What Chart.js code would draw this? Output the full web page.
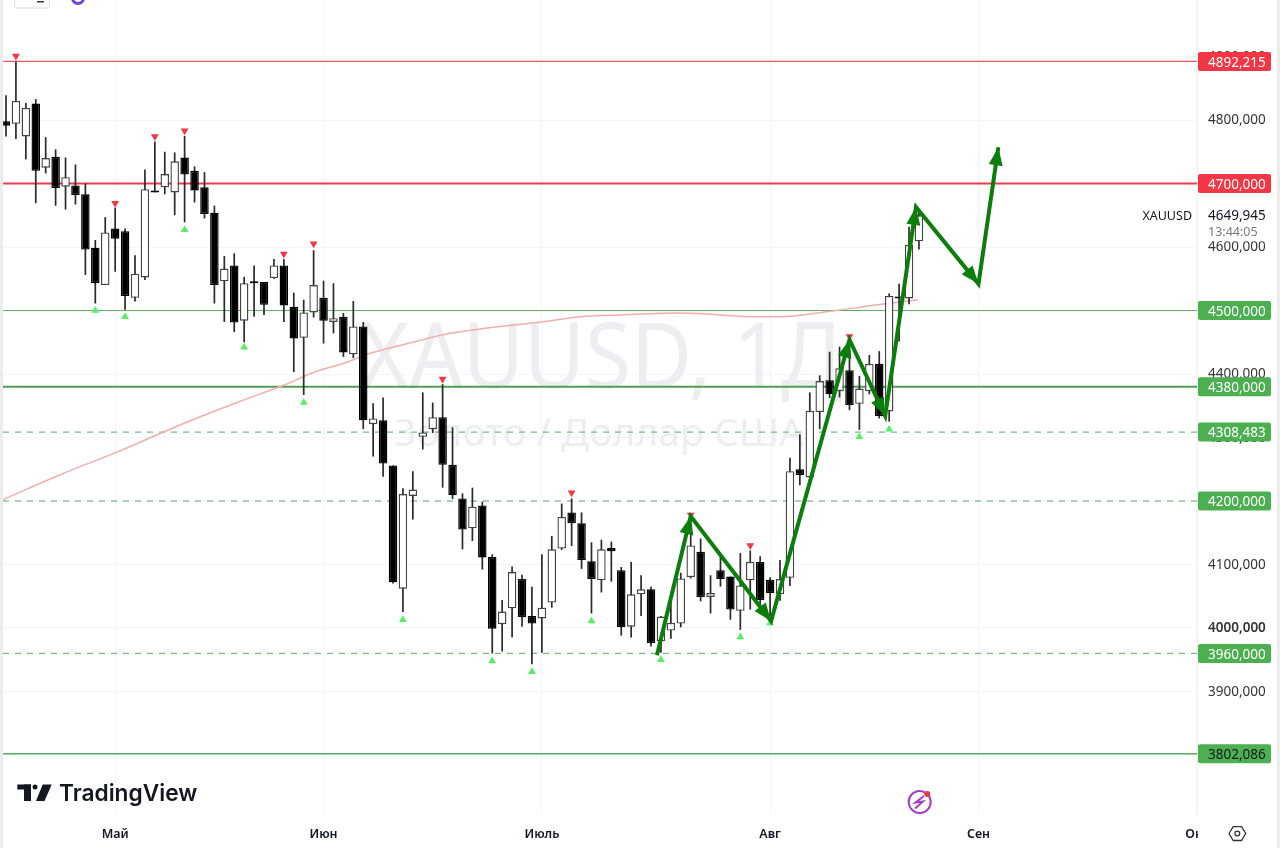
<!DOCTYPE html>
<html>
<head>
<meta charset="utf-8">
<title>XAUUSD</title>
<script src="https://cdn.jsdelivr.net/npm/chart.js@4"></script>
<style>
  html, body { margin: 0; padding: 0; background: #fff; overflow: hidden; }
  canvas { display: block; }
</style>
</head>
<body>
<canvas id="chart" width="1280" height="848"></canvas>
<script>
// daily candles, index = trading day
const candleOpen = [4798,4794,4774,4826,4725,4742,4695,4697,4683,4599,4540,4629,4625,4520,4552,4689,4694,4686,4741,4720,4694,4654,4546,4571,4484,4546,4545,4551,4571,4506,4457,4497,4520,4482,4490,4431,4475,4321,4327,4256,4062,4208,4301,4313,4332,4257,4204,4157,4193,4112,4006,4031,4077,4019,4015,4040,4125,4182,4165,4105,4075,4126,4091,4002,4053,4061,3979,3996,4007,4080,4120,4049,4091,4081,4027,4075,4104,4076,4053,4079,4250,4237,4340,4390,4373,4406,4353,4373,4416,4341,4522,4519,4609];
const candleHigh = [4839,4892,4827,4833,4773,4754,4741,4730,4700,4611,4647,4662,4629,4587,4722,4766,4750,4749,4775,4727,4718,4665,4586,4590,4553,4571,4545,4581,4581,4528,4517,4595,4547,4543,4496,4515,4482,4354,4363,4256,4220,4247,4371,4355,4384,4316,4212,4221,4199,4116,4044,4097,4084,4065,4116,4145,4196,4204,4182,4135,4139,4136,4096,4104,4083,4065,4019,4042,4087,4170,4141,4083,4112,4081,4118,4122,4113,4080,4107,4268,4305,4371,4398,4435,4443,4454,4397,4430,4436,4527,4542,4632,4658];
const candleLow = [4774,4770,4738,4669,4716,4665,4659,4667,4556,4511,4540,4561,4501,4514,4548,4686,4683,4650,4639,4670,4645,4511,4482,4466,4450,4490,4493,4550,4482,4403,4367,4489,4448,4464,4427,4425,4313,4270,4238,4070,4025,4171,4281,4307,4221,4203,4124,4137,4092,3960,3963,3985,4002,3943,3961,4032,4123,4129,4093,4023,4056,4073,3988,3985,4019,3971,3961,3983,4001,4078,4042,4023,4065,4013,3997,4029,4022,4018,4043,4066,4225,4225,4313,4362,4363,4343,4312,4368,4330,4325,4451,4510,4596];
const candleClose = [4791,4830,4819,4720,4740,4693,4710,4682,4596,4543,4623,4613,4523,4558,4691,4686,4715,4735,4714,4689,4652,4540,4566,4481,4543,4543,4509,4571,4508,4456,4497,4540,4484,4488,4434,4475,4327,4330,4259,4072,4211,4218,4308,4332,4257,4209,4155,4191,4111,3999,4026,4088,4017,4007,4032,4124,4175,4165,4107,4077,4124,4121,4001,4053,4061,3976,4018,4008,4078,4130,4049,4055,4077,4029,4067,4104,4044,4055,4077,4247,4241,4342,4389,4368,4409,4351,4377,4416,4334,4523,4519,4603,4650];

// moving average
const maDays = [-0.3,5.4,11.5,18.5,23.6,28.1,30.9,34.4,36.4,41,44.4,47.8,54.5,57.8,61.9,67.9,76,78,82.7,87.8,91.9];
const maValues = [4202,4241,4279,4326,4357,4383,4402,4419,4431,4450,4463,4471,4483,4490,4493,4496,4490,4490,4498,4509,4517];

// swing markers
const upDays = [9,12,18,24,30,40,49,53,59,66,74,77,86,89];
const upValues = [4500,4490,4627,4442,4355,4013,3948,3931,4011,3950,3986,4008,4301,4313];
const downDays = [1,11,15,18,28,31,44,57,69,75,85];
const downValues = [4901,4669,4774,4783,4589,4605,4392,4213,4178,4130,4459];

// hand drawn forecast arrows
const arrowDays = [65.6,69,77.1,85,88.6,91.7,98,100];
const arrowValues = [3957,4176,4011,4454,4334,4663,4542,4757];

// horizontal levels
const levelValues = [4892.215,4700,4500,4380,4308.483,4200,3960,3802.086];
const levelColors = ['#ec5562','#ee3c4c','#5fb267','#4e9f55','#76b880','#76b880','#76b880','#55ad5e'];
const levelWidths = [1.2,2,1.2,2,1.2,1.2,1.2,1.5];
const levelDashed = [false,false,false,false,true,true,true,false];
const badgeColors = ['#f23645','#f23645','#4caf50','#4caf50','#4caf50','#4caf50','#4caf50','#4caf50'];
const badgeText = ['#fff','#fff','#fff','#fff','#fff','#fff','#fff','#131722'];

const priceTicks = [3800,3900,4000,4100,4200,4300,4400,4500,4600,4700,4800,4900];
const monthDays = [11,32,54,77,98,120];
const monthLabels = ['Май','Июн','Июль','Авг','Сен','Окт'];

const lastPrice = 4649.945;
const countdown = '13:44:05';
const symbol = 'XAUUSD';

const xMin = -0.302, xMax = 120.02;
const yMin = 3705.5, yMax = 4989;

const FONT = '"Noto Sans", sans-serif';
const fmt = v => v.toFixed(3).replace('.', ',');
const days = candleOpen.map((_, i) => i);

function roundBox(ctx, x, y, w, h, r) {
  ctx.beginPath();
  ctx.roundRect(x, y, w, h, r);
}

const backdrop = {
  id: 'backdrop',
  beforeDraw(chart) {
    const ctx = chart.ctx;
    ctx.save();
    ctx.fillStyle = '#fff';
    ctx.fillRect(0, 0, 1280, 848);
    ctx.fillStyle = '#ececec';
    ctx.fillRect(0, 0, 3, 848);
    ctx.fillRect(1277, 0, 3, 848);
    ctx.restore();
  },
  beforeDatasetsDraw(chart) {
    // watermark sits right above the grid
    const ctx = chart.ctx;
    ctx.save();
    ctx.fillStyle = '#eceef1';
    ctx.textAlign = 'center';
    ctx.textBaseline = 'alphabetic';
    ctx.save();
    ctx.translate(601, 388);
    ctx.scale(0.91, 1);
    ctx.font = '92px ' + FONT;
    ctx.fillText('XAUUSD, 1Д', 0, 0);
    ctx.restore();
    ctx.font = '39px ' + FONT;
    ctx.fillText('Золото / Доллар США', 599, 446);
    ctx.restore();
  }
};

const arrowHeads = {
  id: 'arrowHeads',
  afterDatasetsDraw(chart) {
    const { ctx, scales } = chart;
    ctx.save();
    ctx.fillStyle = '#0b7d0b';
    for (let i = 1; i < arrowDays.length; i++) {
      const x0 = scales.x.getPixelForValue(arrowDays[i - 1]);
      const y0 = scales.y.getPixelForValue(arrowValues[i - 1]);
      const x1 = scales.x.getPixelForValue(arrowDays[i]);
      const y1 = scales.y.getPixelForValue(arrowValues[i]);
      const a = Math.atan2(y1 - y0, x1 - x0);
      ctx.save();
      ctx.translate(x1, y1);
      ctx.rotate(a);
      ctx.beginPath();
      ctx.moveTo(0, 0);
      ctx.lineTo(-18, -7);
      ctx.lineTo(-18, 7);
      ctx.closePath();
      ctx.fill();
      ctx.restore();
    }
    ctx.restore();
  }
};

const overlay = {
  id: 'overlay',
  afterDraw(chart) {
    const { ctx, scales } = chart;
    ctx.save();

    // price panel separator and clipped corner under it
    ctx.fillStyle = '#fff';
    ctx.fillRect(1198, 815, 79, 33);
    ctx.fillStyle = '#f2f3f6';
    ctx.fillRect(1197, 0, 1, 815);

    // countdown block hides the top of the next tick
    const py = scales.y.getPixelForValue(lastPrice);
    ctx.fillStyle = '#fff';
    ctx.fillRect(1198, py - 10, 74, 36);
    ctx.textBaseline = 'middle';
    ctx.textAlign = 'left';
    ctx.fillStyle = '#131722';
    ctx.font = '13.5px ' + FONT;
    ctx.fillText(fmt(lastPrice), 1208, py + 1);
    ctx.fillStyle = '#787b86';
    ctx.font = '12.5px ' + FONT;
    ctx.fillText(countdown, 1208, py + 17);
    ctx.textAlign = 'right';
    ctx.fillStyle = '#131722';
    ctx.font = '12.5px ' + FONT;
    ctx.fillText(symbol, 1192, py + 1.5);

    // level badges
    ctx.textAlign = 'left';
    ctx.font = '13.5px ' + FONT;
    levelValues.forEach((v, i) => {
      const y = scales.y.getPixelForValue(v);
      ctx.fillStyle = badgeColors[i];
      roundBox(ctx, 1198, y - 9.5, 73, 19, 2);
      ctx.fill();
      ctx.fillStyle = badgeText[i];
      ctx.fillText(fmt(v), 1208, y + 1.5);
    });

    // cropped toolbar at the very top
    ctx.strokeStyle = '#d9d9d9';
    ctx.fillStyle = '#fff';
    ctx.lineWidth = 1;
    roundBox(ctx, 14.5, -6, 35, 14, 2);
    ctx.fill();
    ctx.stroke();
    ctx.fillStyle = '#333';
    ctx.fillRect(37, 1, 7, 1.5);
    ctx.strokeStyle = '#6c45d6';
    ctx.lineWidth = 3;
    ctx.beginPath();
    ctx.arc(78, -2, 5.5, 0, Math.PI * 2);
    ctx.stroke();

    // TradingView logo
    ctx.fillStyle = '#131722';
    ctx.fillRect(17.3, 784.5, 13.7, 5);
    ctx.fillRect(24, 784.5, 7, 16.5);
    ctx.beginPath();
    ctx.arc(35, 787, 2.5, 0, Math.PI * 2);
    ctx.fill();
    ctx.beginPath();
    ctx.moveTo(42.7, 784.5);
    ctx.lineTo(51.7, 784.5);
    ctx.lineTo(44.5, 801);
    ctx.lineTo(36, 801);
    ctx.closePath();
    ctx.fill();
    ctx.textAlign = 'left';
    ctx.textBaseline = 'alphabetic';
    ctx.font = '600 22.7px Inter, sans-serif';
    ctx.fillText('TradingView', 59, 801);

    // lightning badge
    ctx.strokeStyle = '#a23fc4';
    ctx.lineWidth = 2;
    ctx.beginPath();
    ctx.arc(919.7, 802, 11, -0.9, Math.PI * 1.75);
    ctx.stroke();
    ctx.beginPath();
    ctx.moveTo(924, 796);
    ctx.lineTo(915.5, 802.5);
    ctx.lineTo(923, 801.5);
    ctx.lineTo(915, 808.5);
    ctx.stroke();
    ctx.fillStyle = '#f23645';
    ctx.beginPath();
    ctx.arc(927.3, 794, 3, 0, Math.PI * 2);
    ctx.fill();

    // settings hexagon
    ctx.strokeStyle = '#333';
    ctx.lineWidth = 1.3;
    ctx.beginPath();
    ctx.moveTo(1229, 833.5);
    ctx.lineTo(1233.2, 826.7);
    ctx.lineTo(1241.5, 826.7);
    ctx.lineTo(1245.7, 833.5);
    ctx.lineTo(1241.5, 840.5);
    ctx.lineTo(1233.2, 840.5);
    ctx.closePath();
    ctx.stroke();
    ctx.beginPath();
    ctx.arc(1237.3, 833.5, 2.4, 0, Math.PI * 2);
    ctx.stroke();

    ctx.restore();
  }
};

const levelSets = levelValues.map((v, i) => ({
  type: 'line',
  order: 6,
  data: [{ x: xMin, y: v }, { x: xMax, y: v }],
  borderColor: levelColors[i],
  borderWidth: levelWidths[i],
  borderDash: levelDashed[i] ? [6, 6] : [],
  pointRadius: 0
}));

new Chart(document.getElementById('chart'), {
  type: 'bar',
  data: {
    datasets: [
      ...levelSets,
      {
        type: 'line',
        order: 5,
        data: maDays.map((d, i) => ({ x: d, y: maValues[i] })),
        borderColor: '#f2adad',
        borderWidth: 1.5,
        pointRadius: 0,
        cubicInterpolationMode: 'monotone'
      },
      {
        // wicks
        order: 4,
        data: days.map(i => ({ x: i, y: [candleLow[i], candleHigh[i]] })),
        backgroundColor: '#2a2a2a',
        barThickness: 1.7,
        borderWidth: 0
      },
      {
        // bodies
        order: 3,
        data: days.map(i => ({ x: i, y: [candleOpen[i], candleClose[i]] })),
        backgroundColor: ctx => candleClose[ctx.dataIndex] > candleOpen[ctx.dataIndex] ? '#fff' : '#000',
        borderColor: ctx => candleClose[ctx.dataIndex] > candleOpen[ctx.dataIndex] ? '#444' : '#000',
        borderWidth: 1.4,
        borderSkipped: false,
        barThickness: 8.5
      },
      {
        type: 'line',
        order: 2,
        data: upDays.map((d, i) => ({ x: d, y: upValues[i] })),
        showLine: false,
        pointStyle: 'triangle',
        pointRadius: 4.5,
        pointBorderWidth: 0,
        pointBackgroundColor: '#55ee66'
      },
      {
        type: 'line',
        order: 2,
        data: downDays.map((d, i) => ({ x: d, y: downValues[i] })),
        showLine: false,
        pointStyle: 'triangle',
        pointRotation: 180,
        pointRadius: 4.5,
        pointBorderWidth: 0,
        pointBackgroundColor: '#f23645'
      },
      {
        type: 'line',
        order: 1,
        data: arrowDays.map((d, i) => ({ x: d, y: arrowValues[i] })),
        borderColor: '#0b7d0b',
        borderWidth: 4,
        pointRadius: 0,
        borderJoinStyle: 'miter',
        clip: false
      }
    ]
  },
  options: {
    responsive: false,
    animation: false,
    events: [],
    datasets: { bar: { grouped: false, inflateAmount: 0 } },
    layout: { autoPadding: false, padding: { left: 3, right: 3, top: 0, bottom: 0 } },
    plugins: { legend: { display: false }, tooltip: { enabled: false } },
    scales: {
      x: {
        type: 'linear',
        offset: false,
        min: xMin,
        max: xMax,
        border: { display: false },
        grid: { offset: false, color: '#f4f5f8', drawTicks: false },
        afterBuildTicks: s => { s.ticks = monthDays.map(v => ({ value: v })); },
        afterFit: s => { s.height = 33; s.paddingLeft = 0; s.paddingRight = 0; },
        ticks: {
          autoSkip: false,
          maxRotation: 0,
          padding: 12,
          color: '#131722',
          font: { family: FONT, size: 12.5, weight: '600' },
          callback: v => monthLabels[monthDays.indexOf(v)]
        }
      },
      y: {
        position: 'right',
        min: yMin,
        max: yMax,
        border: { display: false },
        grid: { color: '#f4f5f8', drawTicks: false },
        afterBuildTicks: s => { s.ticks = priceTicks.map(v => ({ value: v })); },
        afterFit: s => { s.width = 80; s.paddingTop = 0; s.paddingBottom = 0; },
        ticks: {
          crossAlign: 'near',
          padding: 11,
          labelOffset: 0.5,
          color: '#333',
          font: ctx => ({
            family: FONT,
            size: 13.5,
            weight: ctx.tick && ctx.tick.value === 4000 ? '600' : '400'
          }),
          callback: v => fmt(v)
        }
      }
    }
  },
  plugins: [backdrop, arrowHeads, overlay]
});
</script>
</body>
</html>
